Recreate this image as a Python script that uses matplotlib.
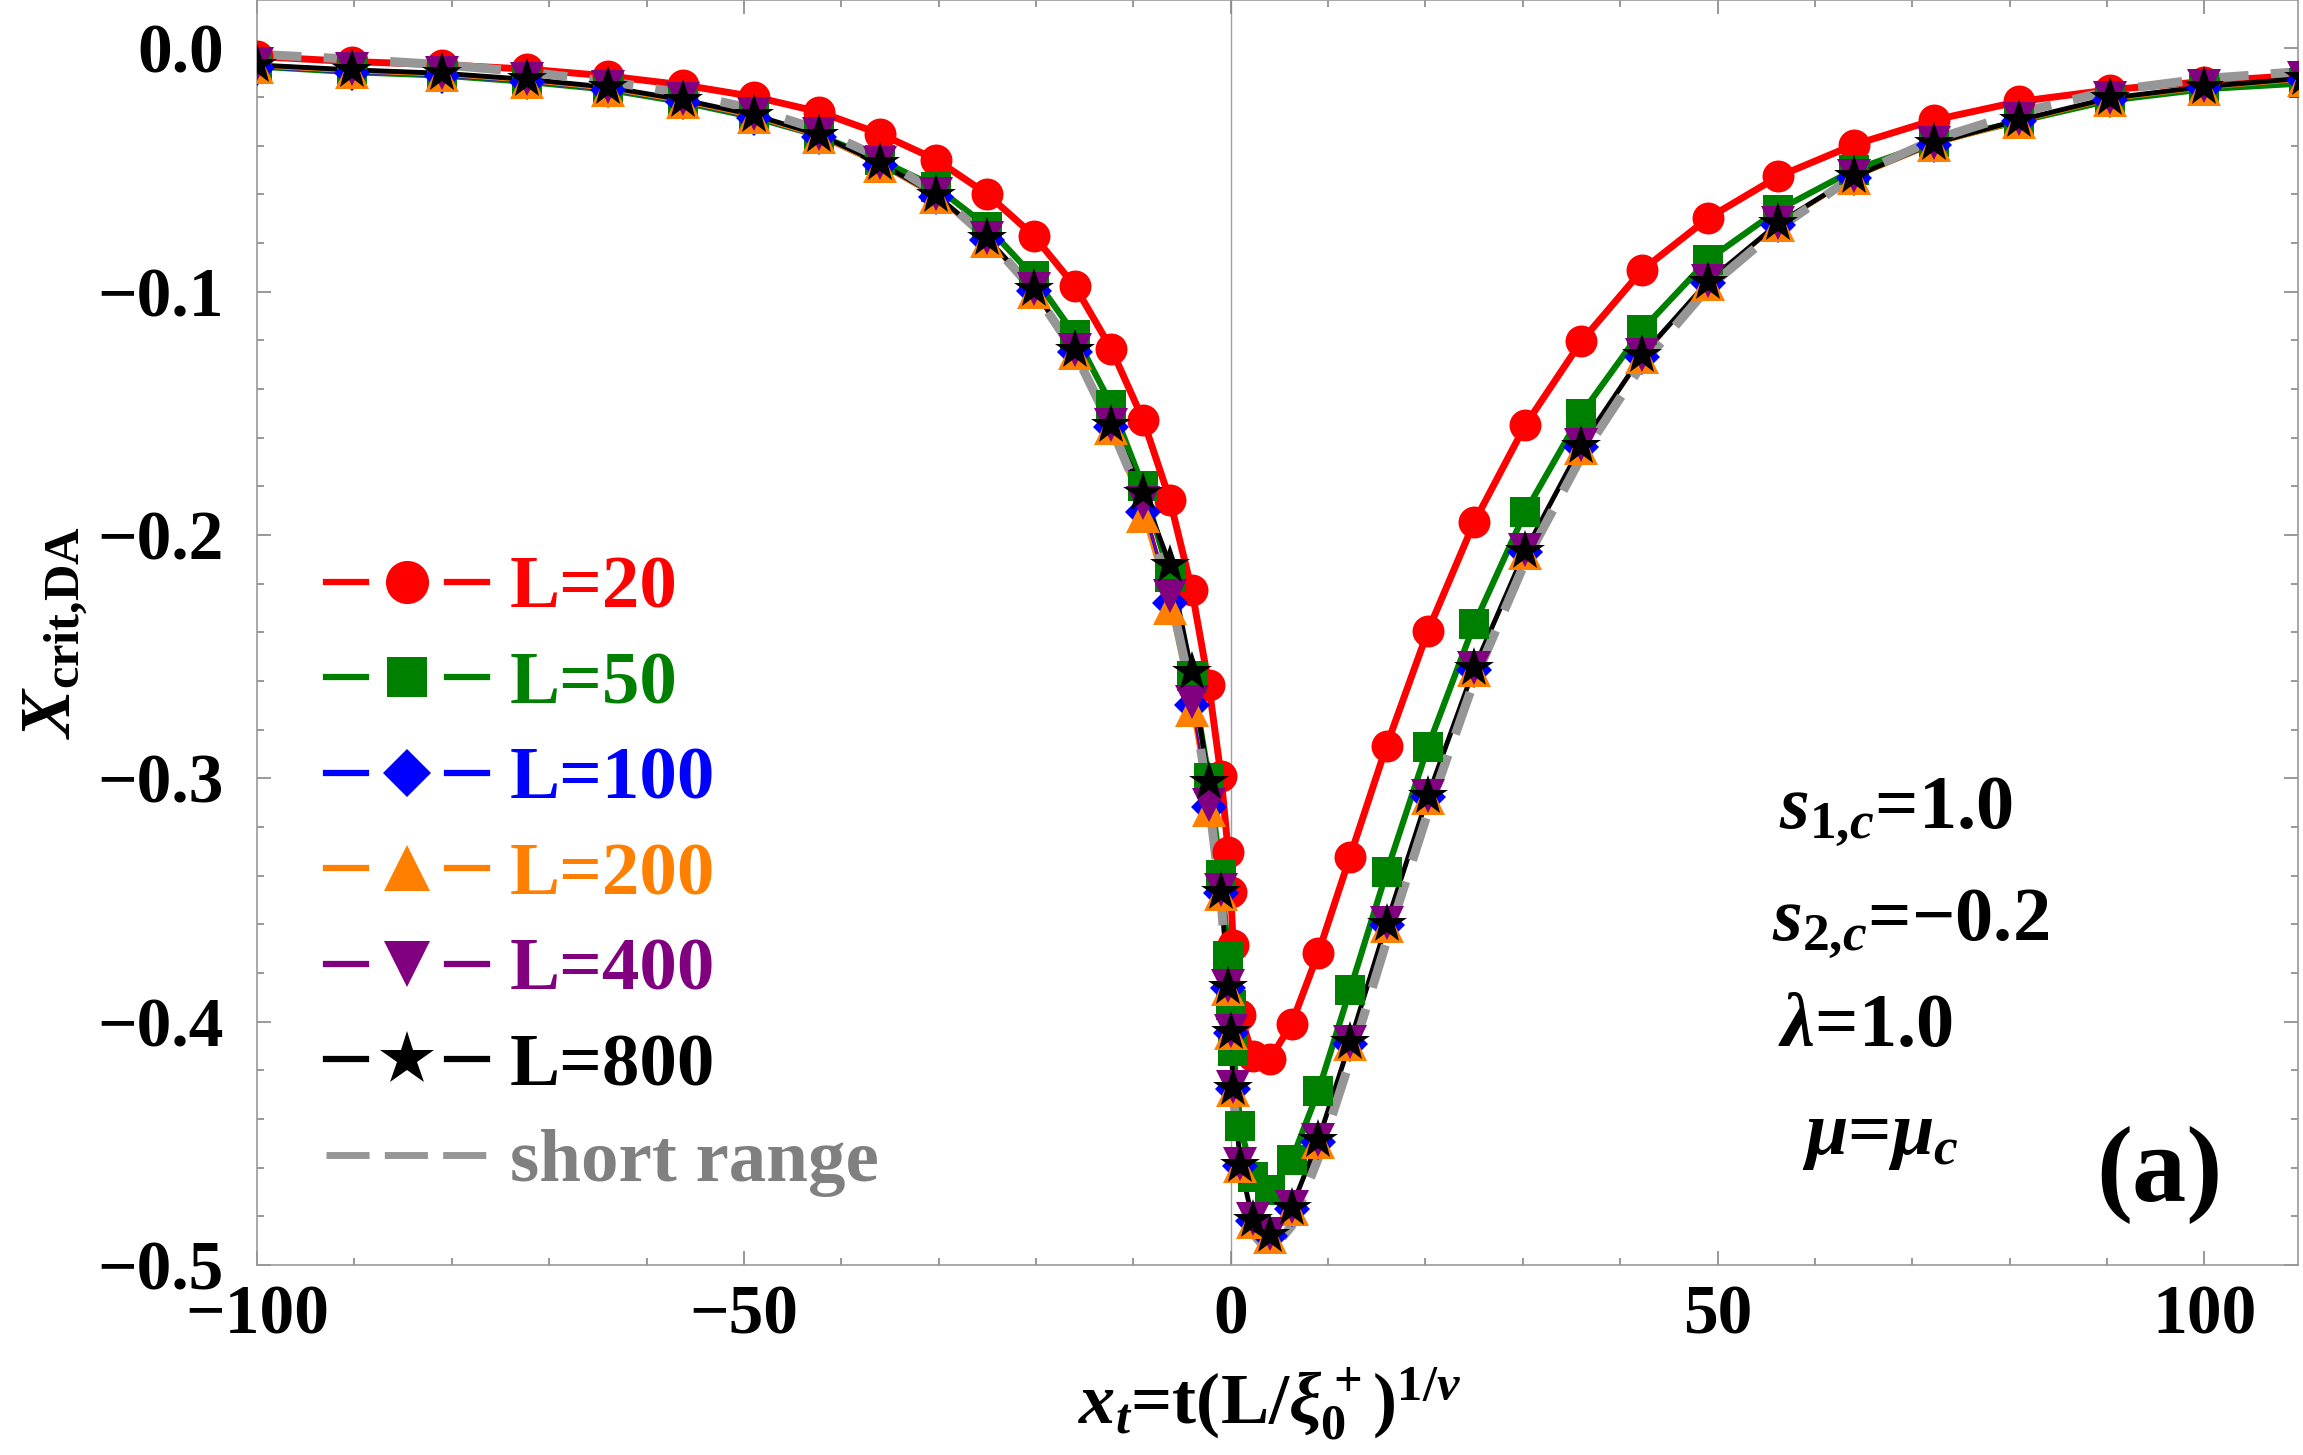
import numpy as np
import matplotlib
matplotlib.use('Agg')
import matplotlib.pyplot as plt
from matplotlib.lines import Line2D
from matplotlib.legend_handler import HandlerBase
from matplotlib.ticker import MultipleLocator, FuncFormatter

plt.rcParams['font.family'] = 'Liberation Serif'
plt.rcParams['font.weight'] = 'bold'
plt.rcParams['mathtext.fontset'] = 'custom'
plt.rcParams['mathtext.rm'] = 'Liberation Serif:bold'
plt.rcParams['mathtext.it'] = 'Liberation Serif:italic:bold'
plt.rcParams['mathtext.bf'] = 'Liberation Serif:bold'
plt.rcParams['lines.scale_dashes'] = False

# ---- data ----
x_t = [-100, -90.25, -81, -72.25, -64, -56.25, -49, -42.25, -36, -30.25,
       -25, -20.25, -16, -12.25, -9, -6.25, -4, -2.25, -1, -0.25,
       0, 0.25, 1, 2.25, 4, 6.25, 9, 12.25, 16, 20.25,
       25, 30.25, 36, 42.25, 49, 56.25, 64, 72.25, 81, 90.25,
       100, 110.25]

L20 = [-0.0034, -0.0055, -0.0068, -0.0086, -0.0114, -0.0151, -0.0199, -0.0262, -0.0352, -0.0458,
       -0.0600, -0.0770, -0.0978, -0.1237, -0.1527, -0.1856, -0.2225, -0.2618, -0.2990, -0.3305,
       -0.3467, -0.3684, -0.3971, -0.4141, -0.4155, -0.4009, -0.3717, -0.3322, -0.2867, -0.2395,
       -0.1948, -0.1549, -0.1205, -0.0912, -0.0699, -0.0527, -0.0397, -0.0295, -0.0219, -0.0171,
       -0.0137, -0.0110]

L50 = [-0.0075, -0.0098, -0.0112, -0.0138, -0.0170, -0.0222, -0.0284, -0.0360, -0.0460, -0.0571,
       -0.0733, -0.0938, -0.1178, -0.1466, -0.1801, -0.2171, -0.2580, -0.3000, -0.3396, -0.3730,
       -0.3930, -0.4120, -0.4430, -0.4640, -0.4690, -0.4570, -0.4284, -0.3870, -0.3387, -0.2871,
       -0.2368, -0.1906, -0.1503, -0.1157, -0.0870, -0.0664, -0.0500, -0.0384, -0.0300, -0.0215,
       -0.0168, -0.0144]

L100 = [-0.0080, -0.0100, -0.0114, -0.0139, -0.0171, -0.0223, -0.0285, -0.0366, -0.0482, -0.0612,
        -0.0790, -0.0998, -0.1250, -0.1558, -0.1904, -0.2280, -0.2700, -0.3120, -0.3470, -0.3862,
        -0.4045, -0.4277, -0.4592, -0.4820, -0.4882, -0.4770, -0.4493, -0.4091, -0.3604, -0.3079,
        -0.2554, -0.2071, -0.1639, -0.1268, -0.0965, -0.0725, -0.0533, -0.0396, -0.0301, -0.0211,
        -0.0164, -0.0129]

L200 = [-0.0078, -0.0098, -0.0112, -0.0137, -0.0170, -0.0222, -0.0284, -0.0366, -0.0483, -0.0613,
        -0.0791, -0.1000, -0.1252, -0.1560, -0.1924, -0.2300, -0.2720, -0.3130, -0.3475, -0.3865,
        -0.4048, -0.4280, -0.4595, -0.4822, -0.4885, -0.4772, -0.4495, -0.4093, -0.3606, -0.3081,
        -0.2556, -0.2073, -0.1641, -0.1270, -0.0967, -0.0727, -0.0535, -0.0398, -0.0303, -0.0213,
        -0.0166, -0.0131]

L400 = [-0.0066, -0.0087, -0.0101, -0.0126, -0.0158, -0.0210, -0.0272, -0.0354, -0.0471, -0.0601,
        -0.0779, -0.0988, -0.1240, -0.1550, -0.1868, -0.2253, -0.2688, -0.3109, -0.3460, -0.3855,
        -0.4040, -0.4270, -0.4585, -0.4812, -0.4874, -0.4762, -0.4485, -0.4083, -0.3596, -0.3071,
        -0.2546, -0.2063, -0.1631, -0.1260, -0.0957, -0.0717, -0.0525, -0.0388, -0.0293, -0.0203,
        -0.0156, -0.0121]

L800 = [-0.0069, -0.0089, -0.0103, -0.0128, -0.0160, -0.0212, -0.0274, -0.0356, -0.0473, -0.0603,
        -0.0781, -0.0990, -0.1242, -0.1548, -0.1828, -0.2123, -0.2565, -0.3014, -0.3467, -0.3858,
        -0.4041, -0.4273, -0.4589, -0.4815, -0.4877, -0.4764, -0.4487, -0.4085, -0.3598, -0.3073,
        -0.2548, -0.2065, -0.1633, -0.1262, -0.0959, -0.0719, -0.0527, -0.0390, -0.0295, -0.0205,
        -0.0158, -0.0123]

short_range = [-0.0025, -0.0045, -0.0068, -0.0098, -0.0136, -0.0185, -0.0250, -0.0335, -0.0450, -0.0595,
               -0.0780, -0.0995, -0.1250, -0.1560, -0.1870, -0.2240, -0.2650, -0.3090, -0.3500, -0.3880,
               -0.4060, -0.4290, -0.4620, -0.4870, -0.4950, -0.4840, -0.4560, -0.4160, -0.3670, -0.3140,
               -0.2600, -0.2110, -0.1680, -0.1300, -0.0985, -0.0740, -0.0525, -0.0375, -0.0265, -0.0175,
               -0.0125, -0.0095]

labels = ['L=20', 'L=50', 'L=100', 'L=200', 'L=400', 'L=800']
series = [L20, L50, L100, L200, L400, L800]
colors = ['#ff0000', '#008000', '#0000ff', '#ff8000', '#800080', '#000000']
markers = ['o', 's', 'D', '^', 'v', '*']
msizes = [23, 21, 18, 25, 25, 30]
lwidths = [5.0, 4.5, 1.8, 1.8, 1.8, 3.5]
GRAY = '#969696'

fig = plt.figure(figsize=(23.03, 14.55), dpi=100)
ax = fig.add_axes([0.1116, 0.1306, 0.8862, 0.8694])

ax.axvline(0, color='#a0a0a0', lw=1.0, zorder=1)

for ys, c, lw in zip(series, colors, lwidths):
    ax.plot(x_t, ys, color=c, lw=lw, zorder=2)
ax.plot(x_t, short_range, color=GRAY, lw=6.5, dashes=(32, 16), zorder=3)
for i, (ys, c, m, ms) in enumerate(zip(series, colors, markers, msizes)):
    ax.plot(x_t, ys, ls='none', marker=m, ms=ms, color=c, mew=0, zorder=4 + i)

ax.set_xlim(-100, 109.6)
ax.set_ylim(-0.5, 0.0198)

ax.xaxis.set_major_locator(MultipleLocator(50))
ax.xaxis.set_minor_locator(MultipleLocator(10))
ax.yaxis.set_major_locator(MultipleLocator(0.1))
ax.yaxis.set_minor_locator(MultipleLocator(0.02))


def fmt_x(v, pos):
    return f'{v:.0f}'.replace('-', '\u2212')


def fmt_y(v, pos):
    if abs(v) < 1e-9:
        return '0.0'
    return f'{v:.1f}'.replace('-', '\u2212')


ax.xaxis.set_major_formatter(FuncFormatter(fmt_x))
ax.yaxis.set_major_formatter(FuncFormatter(fmt_y))
ax.tick_params(which='both', direction='in', top=True, right=True,
               color='#888888', width=1.2, labelsize=50)
ax.tick_params(which='major', length=10)
ax.tick_params(which='minor', length=5)
ax.tick_params(axis='x', pad=14)
ax.tick_params(axis='y', pad=24)
for lab in ax.get_xticklabels() + ax.get_yticklabels():
    lab.set_fontweight('bold')
for sp in ax.spines.values():
    sp.set_color('#999999')
    sp.set_linewidth(1.2)

fig.text(56 / 2303, 1 - 632 / 1455, r'$X_{\mathrm{crit{,}DA}}$', rotation=90,
         ha='center', va='center', fontsize=52)
fig.text(1270 / 2303, 1 - 1403 / 1455, r'$x_t$=t(L/$\xi_0^+)^{1/\nu}$',
         ha='center', va='center', fontsize=52)

ax.text(68.3, -0.3137, r'$s_{1{,}c}$=1.0', ha='center', va='center', fontsize=55)
ax.text(69.8, -0.360, '$s_{2{,}c}$=\u22120.2', ha='center', va='center', fontsize=55)
ax.text(65.2, -0.4025, r'$\lambda$=1.0', ha='center', va='center', fontsize=55)
ax.text(66.7, -0.4477, r'$\mu$=$\mu_c$', ha='center', va='center', fontsize=55)
ax.text(95.4, -0.463, '(a)', ha='center', va='center', fontsize=78)


class SplitHandler(HandlerBase):
    def create_artists(self, legend, orig, xd, yd, w, h, fs, trans):
        y = h / 2 - yd
        x0, x1 = -xd, w - xd
        c = orig.get_color()
        if orig.get_marker() in (None, 'None', '', ' '):
            ln = Line2D([x0, x1], [y, y], color=c, lw=5, dashes=(31, 11))
            ln.set_transform(trans)
            return [ln]
        seg = 0.25 * (x1 - x0)
        a = Line2D([x0, x0 + seg], [y, y], color=c, lw=4.5)
        b = Line2D([x1 - seg, x1], [y, y], color=c, lw=4.5)
        m = Line2D([(x0 + x1) / 2], [y], ls='none', marker=orig.get_marker(),
                   ms=orig.get_markersize() * 1.35, color=c, mew=0)
        for art in (a, b, m):
            art.set_transform(trans)
        return [a, b, m]


handles = [Line2D([], [], color=c, marker=m, ms=ms)
           for c, m, ms in zip(colors, markers, msizes)]
handles.append(Line2D([], [], color=GRAY, marker=None))
leg = ax.legend(handles, labels + ['short range'], loc='upper left',
                bbox_to_anchor=(0.0338, 0.561), frameon=False, fontsize=54,
                handlelength=2.15, handletextpad=0.3, labelspacing=0.36,
                borderpad=0, borderaxespad=0,
                handler_map={Line2D: SplitHandler()})
for t, c in zip(leg.get_texts(), colors + ['#808080']):
    t.set_color(c)
    t.set_fontweight('bold')

fig.savefig('out.png', dpi=100)
